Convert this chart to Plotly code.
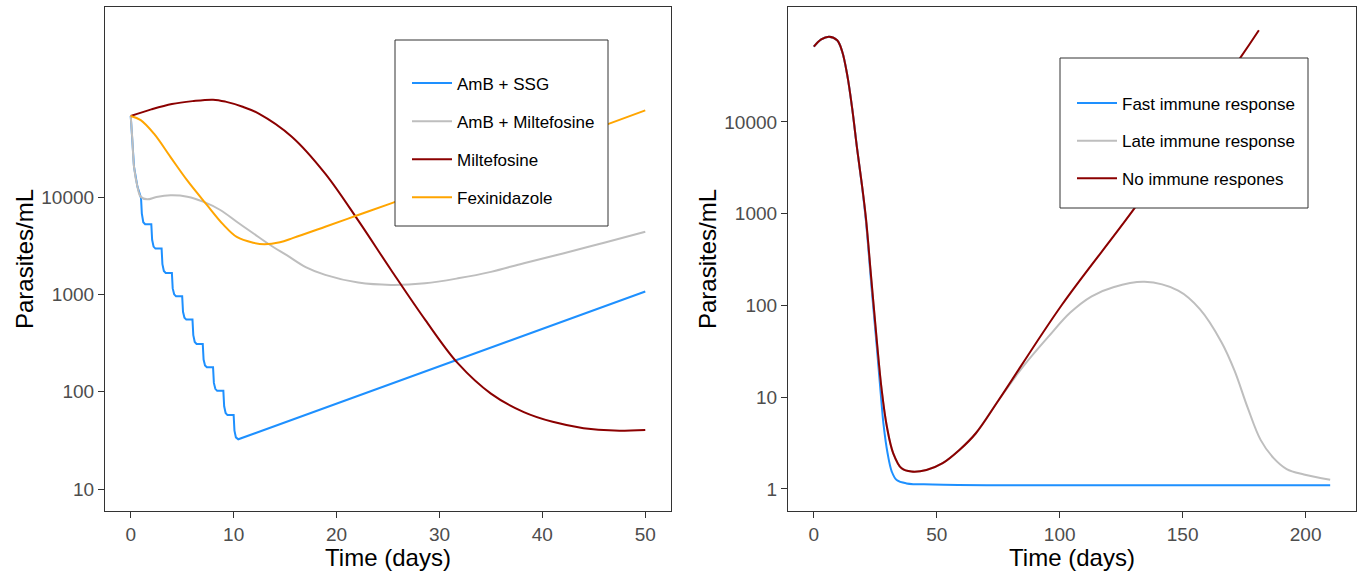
import plotly.graph_objects as go

W, H = 1357, 571

# ---------------- Treatment comparison (left panel) ----------------
ssg_days = [0, 0.16, 0.32, 0.65,
            1.0, 1.08, 1.22, 1.4,
            2.0, 2.08, 2.22, 2.4,
            3.0, 3.08, 3.22, 3.4,
            4.0, 4.08, 4.22, 4.4,
            5.0, 5.08, 5.22, 5.4,
            6.0, 6.08, 6.22, 6.4,
            7.0, 7.08, 7.22, 7.4,
            8.0, 8.08, 8.22, 8.4,
            9.0, 9.08, 9.22, 9.4,
            10.0, 10.08, 10.22, 10.45,
            50]
ssg_vals = [68000, 38500, 20400, 12800,
            9770, 6760, 5500, 5250,
            5250, 3630, 3090, 2950,
            2950, 2040, 1740, 1660,
            1660, 1150, 1000, 955,
            955, 661, 575, 550,
            550, 380, 324, 309,
            309, 214, 186, 178,
            178, 123, 107, 102,
            102, 70.8, 60.3, 57.5,
            57.5, 39.8, 33.9, 32.4,
            1070]

milt_combo_days = [0, 0.16, 0.32, 0.65, 0.97, 1.6, 2.5, 3.87, 5.5, 7.1, 8.7,
                   10.3, 11.9, 13.55, 15.2, 17, 18.9, 22.1, 25.3, 28.6, 31.8,
                   35, 38.2, 42, 46, 50]
milt_combo_vals = [68000, 38500, 20400, 12800, 10070, 9460, 10000, 10400,
                   10070, 8910, 7350, 5570, 4240, 3210, 2510, 1905, 1585,
                   1320, 1250, 1300, 1460, 1700, 2090, 2630, 3390, 4400]

milt_days = [0, 2, 4, 6, 8, 9.2, 10.8, 12.4, 15.65, 18.9, 22.1, 25.3, 28.6,
             31.8, 35, 38.2, 41, 44, 47, 50]
milt_vals = [68000, 79400, 90200, 96600, 100000, 95500, 85100, 72400, 41700,
             17400, 5750, 1780, 550, 195, 95.5, 61.7, 49, 42.2, 39.8, 40.5]

fexi_days = [0, 0.97, 2.26, 3.87, 5.49, 7.4, 9.0, 10.3, 11.9, 13.0, 14.5,
             15.8, 18.9, 22.1, 25.3, 46.3, 50]
fexi_vals = [68000, 61700, 44700, 25700, 14800, 8300, 5200, 3890, 3390, 3270,
             3430, 3800, 4950, 6530, 8610, 55700, 77600]

# ---------------- Immune response scenarios (right panel) ----------------
fast_days = [0, 3, 6.2, 9.5, 11.5, 13.6, 15.6, 17.6, 19.6, 21.2, 23.4, 25.6,
             27.5, 28.3, 30.0, 31.7, 33.7, 37.7, 48.4, 75, 210]
fast_vals = [66100, 79400, 85100, 77600, 58900, 32400, 14100, 5130, 2000, 832,
             166, 35.5, 8.91, 5.2, 2.45, 1.55, 1.25, 1.15, 1.12, 1.10, 1.10]

late_days = [0, 3, 6.2, 9.5, 11.5, 13.6, 15.6, 17.6, 19.6, 21.2, 23.4, 25.6,
             27.6, 29.7, 32.3, 35.7, 39.7, 45.8, 52.4, 59.2, 65.9, 75.2, 85,
             95.4, 104.2, 113, 121.8, 134.5, 148.2, 157, 165.8, 171.1, 176.4,
             181.7, 187, 192.3, 199.3, 210]
late_vals = [66100, 79400, 85100, 77600, 58900, 32400, 14100, 5130, 2040, 891,
             191, 41.7, 12.0, 4.79, 2.45, 1.68, 1.55, 1.61, 1.91, 2.66, 4.05,
             9.33, 21.4, 45.7, 83.2, 126, 158, 181, 145, 91.2, 39.8, 19.5,
             7.76, 3.43, 2.17, 1.65, 1.44, 1.26]

none_days = [0, 3, 6.2, 9.5, 11.5, 13.6, 15.6, 17.6, 19.6, 21.2, 23.4, 25.6,
             27.6, 29.7, 32.3, 35.7, 39.7, 45.8, 52.4, 59.2, 65.9, 75.2, 100.7,
             130.9, 173.2, 181]
none_vals = [66100, 79400, 85100, 77600, 58900, 32400, 14100, 5130, 2040, 891,
             191, 41.7, 12.0, 4.79, 2.45, 1.68, 1.55, 1.61, 1.91, 2.66, 4.05,
             9.33, 100, 1194, 49000, 100000]

left_names = ["AmB + SSG", "AmB + Miltefosine", "Miltefosine", "Fexinidazole"]
right_names = ["Fast immune response", "Late immune response", "No immune respones"]

BLUE, GREY, RED, ORANGE = "#1E90FF", "#BEBEBE", "#8B0000", "#FFA500"
FONT = "Liberation Sans, Arial, sans-serif"

fig = go.Figure()

def add_line(x, y, name, color, xa, ya, legend, group, shape="spline"):
    fig.add_trace(go.Scatter(
        x=x, y=y, name=name, mode="lines", xaxis=xa, yaxis=ya,
        line=dict(color=color, width=2, shape=shape, smoothing=1.0),
        legend=legend, legendgroup=group,
    ))

add_line(ssg_days, ssg_vals, left_names[0], BLUE, "x", "y", "legend", "a", shape="linear")
add_line(milt_combo_days, milt_combo_vals, left_names[1], GREY, "x", "y", "legend", "b")
add_line(milt_days, milt_vals, left_names[2], RED, "x", "y", "legend", "c")
add_line(fexi_days, fexi_vals, left_names[3], ORANGE, "x", "y", "legend", "d")

add_line(fast_days, fast_vals, right_names[0], BLUE, "x2", "y2", "legend2", "e")
add_line(late_days, late_vals, right_names[1], GREY, "x2", "y2", "legend2", "f")
add_line(none_days, none_vals, right_names[2], RED, "x2", "y2", "legend2", "g")

def px_x(p):
    return p / W

def px_y(p):
    return 1 - p / H

ydom = [px_y(511), px_y(7)]

axis_common = dict(
    showline=True, mirror=True, linecolor="#333333", linewidth=1.2,
    ticks="outside", ticklen=6, tickwidth=1.2, tickcolor="#333333",
    showgrid=False, zeroline=False,
    tickfont=dict(family=FONT, size=19, color="#4D4D4D"),
    automargin=False,
)

fig.update_layout(
    width=W, height=H, autosize=False,
    margin=dict(l=0, r=0, t=0, b=0),
    paper_bgcolor="white", plot_bgcolor="white",
    showlegend=True,
    xaxis=dict(domain=[px_x(105), px_x(671)], range=[-2.5, 52.5],
               tickvals=[0, 10, 20, 30, 40, 50], anchor="y",
               title=dict(text="Time (days)", standoff=6,
                          font=dict(family=FONT, size=24, color="black")),
               **axis_common),
    yaxis=dict(domain=ydom, type="log", range=[0.774, 5.952],
               tickvals=[10, 100, 1000, 10000],
               ticktext=["10", "100", "1000", "10000"], anchor="x",
               title=dict(text="Parasites/mL", standoff=0,
                          font=dict(family=FONT, size=24, color="black")),
               **axis_common),
    xaxis2=dict(domain=[px_x(788), px_x(1356)], range=[-10.5, 220.5],
                tickvals=[0, 50, 100, 150, 200], anchor="y2",
                title=dict(text="Time (days)", standoff=6,
                           font=dict(family=FONT, size=24, color="black")),
                **axis_common),
    yaxis2=dict(domain=ydom, type="log", range=[-0.240, 5.253],
                tickvals=[1, 10, 100, 1000, 10000],
                ticktext=["1", "10", "100", "1000", "10000"], anchor="x2",
                title=dict(text="Parasites/mL", standoff=0,
                           font=dict(family=FONT, size=24, color="black")),
                **axis_common),
    legend=dict(x=px_x(407), y=px_y(65.5), xanchor="left", yanchor="top",
                bgcolor="rgba(0,0,0,0)", borderwidth=0, itemwidth=40,
                tracegroupgap=13, traceorder="grouped",
                font=dict(family=FONT, size=17, color="black")),
    legend2=dict(x=px_x(1072), y=px_y(85.5), xanchor="left", yanchor="top",
                 bgcolor="rgba(0,0,0,0)", borderwidth=0, itemwidth=40,
                 tracegroupgap=12.5, traceorder="grouped",
                 font=dict(family=FONT, size=17, color="black")),
    shapes=[
        dict(type="rect", xref="paper", yref="paper", layer="above",
             x0=px_x(395), x1=px_x(608), y0=px_y(226), y1=px_y(40),
             fillcolor="white", line=dict(color="#333333", width=1)),
        dict(type="rect", xref="paper", yref="paper", layer="above",
             x0=px_x(1060), x1=px_x(1308), y0=px_y(208), y1=px_y(58),
             fillcolor="white", line=dict(color="#333333", width=1)),
    ],
)

fig.write_html("out.html")
